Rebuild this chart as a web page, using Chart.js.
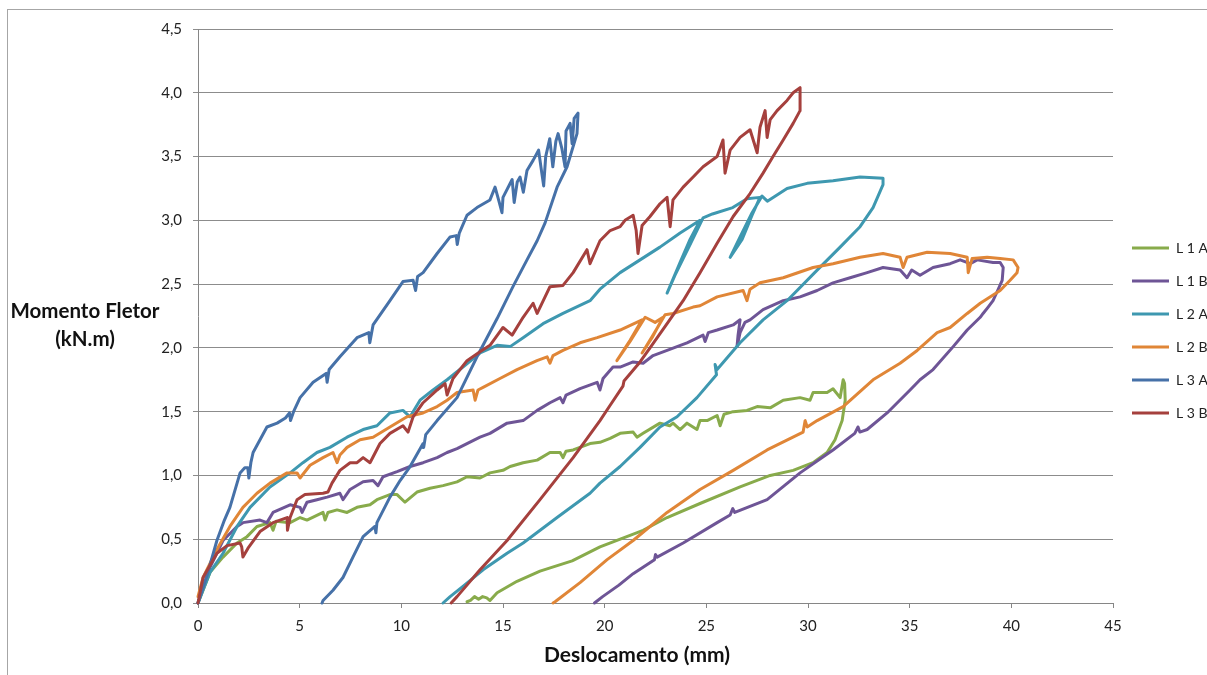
<!DOCTYPE html>
<html>
<head>
<meta charset="utf-8">
<script src="https://cdn.jsdelivr.net/npm/chart.js@4.4.1/dist/chart.umd.min.js"></script>
<style>
  html, body { margin: 0; padding: 0; background: #fff; }
  #frame { position: absolute; left: 7px; top: 9px; width: 1220px; height: 690px; border: 1px solid #a6a6a6; }
  #wrap { position: absolute; left: 0; top: 0; width: 1207px; height: 675px; }
</style>
</head>
<body>
<div id="frame"></div>
<div id="wrap"><canvas id="grafico"></canvas></div>
<script>
// deslocamento (mm), momento fletor (kN.m)
const seriesNames = ['L 1 A', 'L 1 B', 'L 2 A', 'L 2 B', 'L 3 A', 'L 3 B'];
const seriesColors = ['#88ab4b', '#6e5596', '#3e98b0', '#e08637', '#4671a8', '#a5403d'];

const L1A = [
  [0,0],[0.59,0.24],[1.23,0.36],[1.92,0.47],[2.41,0.52],[2.9,0.6],[3.54,0.63],[3.69,0.57],[3.84,0.64],[4.53,0.63],
  [5.02,0.67],[5.36,0.65],[6.15,0.71],[6.25,0.65],[6.39,0.71],[6.84,0.73],[7.33,0.71],[7.82,0.75],[8.46,0.77],[8.8,0.81],
  [9.44,0.85],[9.79,0.85],[10.18,0.79],[10.77,0.87],[11.41,0.9],[12.05,0.92],[12.74,0.95],[13.23,0.99],[13.87,0.98],[14.36,1.02],
  [15.0,1.04],[15.35,1.07],[15.99,1.1],[16.68,1.12],[17.31,1.18],[17.81,1.18],[17.95,1.14],[18.1,1.19],[18.45,1.2],[19.28,1.25],
  [19.77,1.26],[20.27,1.29],[20.76,1.33],[21.4,1.34],[21.59,1.3],[21.89,1.33],[22.72,1.41],[23.2,1.39],[23.36,1.41],[23.71,1.36],
  [24.05,1.41],[24.54,1.36],[24.69,1.43],[25.04,1.43],[25.53,1.47],[25.68,1.39],[25.87,1.48],[26.32,1.5],[27.0,1.51],[27.5,1.54],
  [28.14,1.53],[28.78,1.59],[29.61,1.61],[30.1,1.59],[30.25,1.65],[30.94,1.65],[31.23,1.68],[31.58,1.61],[31.73,1.75],
  [31.8,1.72],[31.83,1.59],[31.68,1.43],[31.33,1.28],[30.94,1.18],[30.25,1.1],[29.27,1.04],[28.14,1.0],[26.66,0.91],[24.69,0.78],
  [23.07,0.67],[21.89,0.57],[19.77,0.44],[18.4,0.33],[16.82,0.25],[15.69,0.17],[14.71,0.08],[14.36,0.02],[14.2,0.04],[14.0,0.05],
  [13.8,0.03],[13.6,0.05],[13.4,0.02],[13.23,0.01]
];

const L1B = [
  [0,0],[0.59,0.28],[1.23,0.49],[1.92,0.6],[2.21,0.63],[3.05,0.65],[3.39,0.63],[3.69,0.71],[4.53,0.77],[5.02,0.75],
  [5.12,0.71],[5.36,0.79],[5.85,0.81],[6.35,0.83],[6.98,0.86],[7.13,0.81],[7.48,0.89],[8.12,0.95],[8.61,0.96],[8.85,0.92],
  [9.1,0.99],[9.79,1.03],[10.43,1.07],[11.07,1.1],[11.76,1.14],[12.25,1.18],[12.74,1.21],[13.23,1.25],[13.87,1.3],[14.36,1.33],
  [15.2,1.41],[15.99,1.43],[16.68,1.51],[17.31,1.57],[17.81,1.61],[17.95,1.57],[18.1,1.63],[18.79,1.68],[19.63,1.73],[19.77,1.67],
  [19.92,1.76],[20.41,1.85],[20.76,1.85],[21.4,1.89],[21.89,1.88],[22.38,1.94],[23.07,1.98],[24.05,2.04],[24.84,2.1],[24.94,2.05],
  [25.1,2.12],[25.53,2.14],[26.32,2.18],[26.66,2.22],[26.56,2.1],[26.51,2.01],[26.66,2.12],[26.9,2.2],[27.15,2.22],[27.79,2.3],
  [28.78,2.37],[29.61,2.4],[30.45,2.45],[31.23,2.51],[32.07,2.55],[32.91,2.59],[33.69,2.63],[34.53,2.61],[34.87,2.55],[35.1,2.61],
  [35.51,2.57],[36.15,2.63],[36.99,2.66],[37.48,2.69],[37.98,2.66],[38.32,2.69],[39.1,2.67],[39.45,2.67],[39.6,2.63],
  [39.55,2.53],[39.3,2.44],[39.1,2.37],[38.86,2.32],[38.61,2.27],[38.47,2.24],[37.83,2.14],[37.14,2.01],[36.15,1.83],[35.51,1.75],
  [35.02,1.67],[33.89,1.49],[32.91,1.36],[32.55,1.34],[32.46,1.38],[32.3,1.33],[31.23,1.2],[29.61,1.02],[27.99,0.81],[26.4,0.71],
  [26.3,0.74],[26.17,0.69],[25.53,0.63],[23.86,0.47],[22.58,0.36],[22.5,0.38],[22.45,0.34],[21.4,0.23],[20.7,0.14],[19.9,0.05],
  [19.5,0]
];

const L2A = [
  [0,0],[0.59,0.24],[1.23,0.39],[1.92,0.6],[2.56,0.75],[3.54,0.91],[4.53,1.02],[5.16,1.1],[5.85,1.18],[6.49,1.22],
  [7.33,1.3],[8.12,1.36],[8.8,1.39],[9.44,1.49],[10.08,1.51],[10.43,1.46],[10.92,1.59],[11.56,1.67],[12.25,1.75],[13.03,1.85],
  [13.87,1.96],[14.71,2.02],[15.35,2.01],[15.99,2.08],[16.97,2.19],[17.95,2.27],[19.28,2.37],[19.77,2.46],[20.76,2.59],[21.74,2.69],
  [22.72,2.79],[23.71,2.9],[24.69,3.0],
  [24.2,2.85],[23.71,2.67],[23.07,2.43],[23.46,2.57],[24.2,2.81],[24.84,3.02],[25.3,3.05],[26.3,3.1],[27.0,3.17],[27.64,3.18],
  [27.25,3.04],[26.76,2.85],[26.17,2.71],[26.66,2.87],[27.25,3.06],[27.74,3.19],[28.0,3.15],[28.97,3.25],[29.96,3.29],[31.23,3.31],
  [32.56,3.34],[33.69,3.33],
  [33.69,3.28],[33.2,3.1],[32.56,2.95],[31.58,2.79],[30.45,2.61],[28.97,2.37],[27.79,2.22],[26.66,2.04],[25.53,1.83],[25.43,1.87],
  [25.5,1.79],[24.54,1.61],[23.56,1.46],[22.72,1.38],[21.74,1.22],[20.76,1.07],[19.77,0.94],[19.28,0.86],[17.66,0.67],[15.99,0.47],
  [15.2,0.39],[14.02,0.26],[13.03,0.13],[12.4,0.05],[12.05,0]
];

const L2B = [
  [0,0.05],[0.25,0.2],[0.93,0.42],[1.57,0.6],[2.21,0.75],[2.9,0.86],[3.54,0.94],[4.38,1.02],[4.87,1.02],[5.02,0.98],
  [5.51,1.08],[6.15,1.14],[6.64,1.18],[6.84,1.1],[6.98,1.16],[7.33,1.22],[7.97,1.28],[8.61,1.3],[9.44,1.38],[10.28,1.46],
  [11.07,1.49],[11.76,1.54],[12.25,1.59],[12.74,1.65],[13.53,1.67],[13.63,1.59],[13.77,1.67],[14.02,1.69],[14.85,1.76],[15.69,1.83],
  [16.67,1.9],[17.17,1.93],[17.31,1.88],[17.46,1.94],[17.95,1.98],[18.79,2.04],[19.63,2.08],[20.76,2.14],[21.84,2.22],
  [21.25,2.06],[20.6,1.9],[21.25,2.05],[21.99,2.24],[22.48,2.2],[22.87,2.24],
  [22.33,2.08],[21.84,1.96],[22.38,2.1],[22.97,2.26],[23.36,2.27],[24.35,2.32],[24.69,2.33],[25.53,2.4],[26.81,2.45],[27.0,2.37],
  [27.15,2.46],[27.64,2.51],[28.78,2.55],[30.25,2.63],[31.23,2.66],[32.56,2.71],[33.69,2.74],[34.53,2.71],[34.68,2.63],[34.87,2.71],
  [35.86,2.75],[36.99,2.74],[37.83,2.71],[37.88,2.59],[38.07,2.7],[38.81,2.71],[39.45,2.7],[40.09,2.69],[40.33,2.63],
  [40.28,2.59],[39.94,2.53],[39.45,2.45],[38.47,2.35],[37.83,2.27],[36.99,2.16],[36.35,2.12],[35.37,1.98],[34.53,1.88],[33.2,1.75],
  [31.73,1.54],[30.45,1.43],[29.96,1.38],[29.86,1.43],[29.76,1.34],[27.99,1.2],[26.32,1.04],[24.69,0.89],[23.07,0.71],[21.4,0.49],
  [20.12,0.34],[18.79,0.16],[17.56,0.01],[17.46,0]
];

const L3A = [
  [0,0],[0.45,0.22],[0.93,0.49],[1.3,0.65],[1.57,0.75],[2.07,1.02],[2.3,1.06],[2.45,1.06],[2.5,0.98],[2.6,1.1],
  [2.71,1.18],[3.39,1.38],[3.89,1.41],[4.3,1.45],[4.5,1.49],[4.55,1.43],[4.7,1.5],[5.02,1.61],[5.66,1.73],[6.3,1.8],
  [6.35,1.73],[6.45,1.83],[6.98,1.93],[7.82,2.08],[8.4,2.12],[8.45,2.04],[8.61,2.18],[9.44,2.37],[10.08,2.52],[10.58,2.53],
  [10.7,2.45],[10.8,2.56],[11.07,2.59],[11.76,2.74],[12.4,2.87],[12.7,2.88],[12.75,2.81],[12.85,2.9],[13.23,3.04],[13.72,3.1],
  [14.36,3.16],[14.61,3.26],[14.8,3.15],[14.95,3.06],[15.0,3.18],[15.45,3.32],[15.55,3.14],[15.7,3.3],[15.84,3.34],[16.0,3.22],
  [16.18,3.39],[16.48,3.47],[16.75,3.55],[16.9,3.38],[17.0,3.27],[17.1,3.5],[17.3,3.64],[17.45,3.42],[17.6,3.62],[17.71,3.68],
  [17.9,3.56],[18.05,3.42],[18.1,3.7],[18.3,3.76],[18.4,3.6],[18.5,3.8],[18.69,3.84],
  [18.64,3.68],[18.15,3.42],[17.66,3.26],[17.07,2.98],[16.68,2.84],[16.18,2.69],[15.49,2.48],[14.71,2.23],[13.72,1.93],[12.74,1.61],
  [11.76,1.43],[11.2,1.32],[11.1,1.22],[11.07,1.25],[10.43,1.07],[9.94,0.96],[9.44,0.83],[8.8,0.63],[8.75,0.55],[8.7,0.6],
  [8.12,0.52],[7.62,0.36],[7.13,0.2],[6.64,0.1],[6.15,0.02],[6.1,0]
];

const L3B = [
  [0,0],[0.25,0.2],[0.93,0.39],[1.43,0.45],[2.07,0.47],[2.15,0.44],[2.21,0.36],[2.46,0.43],[3.05,0.56],[3.69,0.63],
  [4.38,0.67],[4.4,0.57],[4.53,0.67],[4.87,0.81],[5.26,0.85],[6.15,0.86],[6.39,0.87],[6.59,0.94],[6.98,1.04],[7.48,1.1],
  [7.82,1.1],[8.12,1.14],[8.46,1.1],[8.95,1.25],[9.44,1.33],[10.08,1.39],[10.33,1.34],[10.58,1.46],[11.07,1.57],[11.76,1.67],
  [12.15,1.72],[12.25,1.63],[12.54,1.76],[13.23,1.9],[13.87,1.97],[14.36,2.02],[15.0,2.16],[15.45,2.1],[15.99,2.24],[16.48,2.35],
  [16.68,2.27],[17.31,2.48],[17.95,2.49],[18.45,2.59],[19.13,2.77],[19.28,2.66],[19.77,2.84],[20.27,2.92],[20.76,2.95],[21.0,3.0],
  [21.4,3.04],[21.55,2.92],[21.64,2.74],[21.84,2.96],[22.23,3.03],[22.72,3.13],[23.07,3.18],[23.22,2.95],[23.36,3.16],[23.86,3.26],
  [24.35,3.34],[24.84,3.42],[25.53,3.5],[25.82,3.63],[25.92,3.37],[26.17,3.55],[26.66,3.65],[27.15,3.71],[27.5,3.53],[27.64,3.73],
  [27.89,3.86],[27.99,3.65],[28.14,3.79],[28.48,3.86],[28.97,3.94],[29.27,4.0],[29.61,4.04],
  [29.61,3.86],[29.27,3.76],[28.78,3.63],[28.28,3.5],[27.79,3.37],[27.15,3.21],[26.32,3.03],[25.53,2.82],[24.69,2.59],[23.86,2.37],
  [23.07,2.19],[22.23,2.0],[21.74,1.89],[20.95,1.74],[20.9,1.7],[20.27,1.55],[19.77,1.43],[18.45,1.14],[16.82,0.81],[15.2,0.49],
  [13.87,0.26],[12.74,0.05],[12.45,0]
];

const xTicks = [0, 5, 10, 15, 20, 25, 30, 35, 40, 45];
const yTicks = [0, 0.5, 1, 1.5, 2, 2.5, 3, 3.5, 4, 4.5];
const xTitle = 'Deslocamento (mm)';
const yTitle = ['Momento Fletor', '(kN.m)'];

const allSeries = [L1A, L1B, L2A, L2B, L3A, L3B];
const fonte = 'Lato, "Open Sans", sans-serif';

const datasets = allSeries.map((pts, i) => ({
    label: seriesNames[i],
    data: pts.map(p => ({x: p[0], y: p[1]})),
    borderColor: seriesColors[i],
    backgroundColor: seriesColors[i],
    borderWidth: 3,
    pointRadius: 0,
    showLine: true,
    tension: 0,
    borderJoinStyle: 'round',
    borderCapStyle: 'round',
    clip: false,
    order: allSeries.length - i
}));

// titulos dos eixos na horizontal, como no Excel
const titulos = {
    id: 'titulos',
    afterDraw(chart) {
        const ctx = chart.ctx;
        const area = chart.chartArea;
        ctx.save();
        ctx.fillStyle = '#111';
        ctx.textAlign = 'center';
        ctx.textBaseline = 'middle';
        ctx.font = 'bold 20.5px ' + fonte;
        ctx.fillText(yTitle[0], area.left - 113, 311);
        ctx.fillText(yTitle[1], area.left - 113, 339);
        ctx.font = 'bold 21px ' + fonte;
        ctx.fillText(xTitle, 637, 655);
        ctx.restore();
    }
};

const ctx = document.getElementById('grafico').getContext('2d');
new Chart(ctx, {
    type: 'scatter',
    data: { datasets: datasets },
    plugins: [titulos],
    options: {
        responsive: true,
        maintainAspectRatio: false,
        animation: false,
        layout: { padding: { top: 29, left: 0, right: 0, bottom: 0 } },
        plugins: {
            legend: {
                display: true,
                position: 'right',
                align: 'start',
                maxWidth: 94,
                title: { display: true, text: '', font: { size: 10 }, padding: { top: 181, bottom: 0 } },
                labels: {
                    usePointStyle: true,
                    pointStyle: 'line',
                    pointStyleWidth: 37,
                    padding: 19,
                    color: '#222',
                    font: { size: 14, family: fonte },
                    sort: (a, b) => a.datasetIndex - b.datasetIndex
                }
            },
            tooltip: { enabled: false }
        },
        scales: {
            x: {
                type: 'linear',
                min: 0,
                max: 45,
                afterFit: s => { s.height = 72; },
                afterBuildTicks: s => { s.ticks = xTicks.map(v => ({value: v})); },
                ticks: {
                    color: '#222',
                    padding: 9,
                    font: { size: 15, family: fonte },
                    maxRotation: 0,
                    callback: v => String(v)
                },
                grid: { drawOnChartArea: false, drawTicks: true, tickLength: 5, color: '#868686' },
                border: { color: '#868686', width: 1 }
            },
            y: {
                type: 'linear',
                min: 0,
                max: 4.5,
                afterFit: s => { s.width = 198; },
                afterBuildTicks: s => { s.ticks = yTicks.map(v => ({value: v})); },
                ticks: {
                    color: '#222',
                    padding: 11,
                    font: { size: 15, family: fonte },
                    callback: v => v.toFixed(1).replace('.', ',')
                },
                grid: { color: '#8c8c8c', lineWidth: 1, drawTicks: true, tickLength: 5 },
                border: { color: '#868686', width: 1 }
            }
        }
    }
});
</script>
</body>
</html>
